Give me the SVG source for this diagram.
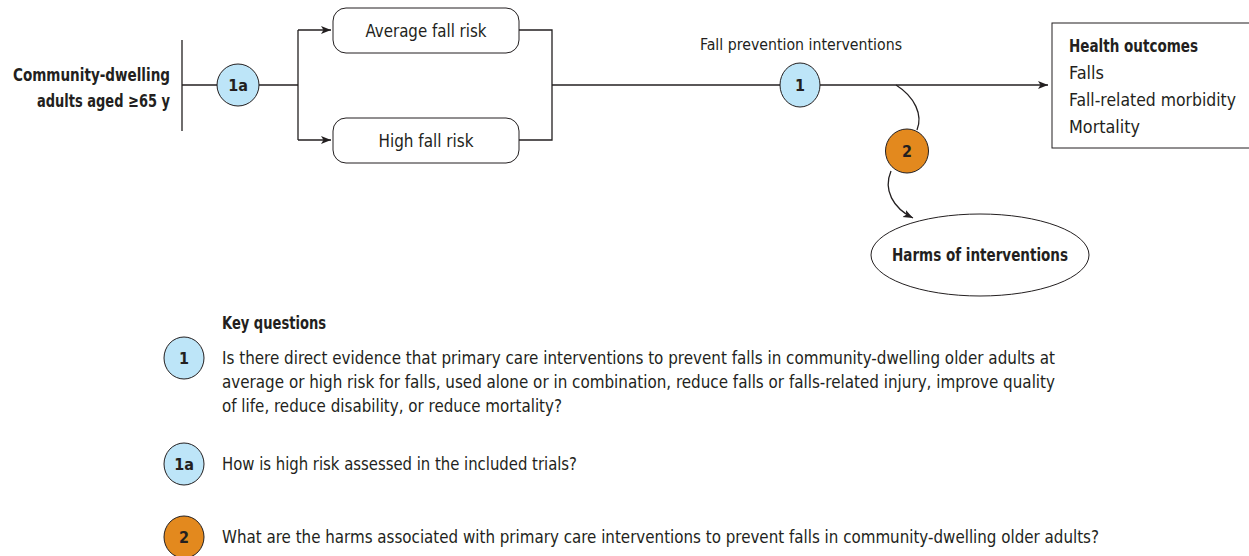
<svg xmlns="http://www.w3.org/2000/svg" width="1249" height="556" viewBox="0 0 1249 556">
<defs>
<marker id="ah" viewBox="0 0 10 10" refX="10" refY="5" markerWidth="10" markerHeight="10" markerUnits="userSpaceOnUse" orient="auto">
<path d="M0,1 L10,5 L0,9 L2.5,5 Z" fill="#231f20"/>
</marker>
<style>
text{font-family:"DejaVu Sans Condensed","Liberation Sans Narrow","Liberation Sans",sans-serif;fill:#231f20;font-size:17px}
.b{font-weight:bold}
.line{fill:none;stroke:#231f20;stroke-width:1.3}
.blue{fill:#bde5f8;stroke:#231f20;stroke-width:1}
.orange{fill:#e3891e;stroke:#231f20;stroke-width:1}
.box{fill:#fff;stroke:#231f20;stroke-width:1}
.c{text-anchor:middle}
.n{font-weight:bold;font-size:16px}
.pop{font-weight:bold;font-size:18px}
</style>
</defs>
<rect width="1249" height="556" fill="#fff"/>
<g id="connectors">
<line class="line" x1="182" y1="40" x2="182" y2="131"/>
<path class="line" d="M182,85 H298"/>
<path class="line" d="M298,30 V140"/>
<path class="line" d="M298,30 H331" marker-end="url(#ah)"/>
<path class="line" d="M298,140 H331" marker-end="url(#ah)"/>
<path class="line" d="M519,30 H552 V140 H519"/>
<path class="line" d="M552,85 H1048" marker-end="url(#ah)"/>
<path class="line" d="M896,85 C915,97 923,115 917,130"/>
<path class="line" d="M891,171 C883,190 893,208 913,218" marker-end="url(#ah)"/>
</g>
<g id="population">
<text class="pop" x="170" y="81" text-anchor="end" textLength="157" lengthAdjust="spacingAndGlyphs">Community-dwelling</text>
<text class="pop" x="170" y="107" text-anchor="end" textLength="133" lengthAdjust="spacingAndGlyphs">adults aged ≥65 y</text>
</g>
<g id="kq1a">
<ellipse class="blue" cx="238" cy="85" rx="21" ry="21"/>
<text class="n c" x="238" y="91">1a</text>
</g>
<g id="average">
<rect class="box" x="333" y="8" width="186" height="45" rx="13"/>
<text class="c" x="426" y="37" textLength="121" lengthAdjust="spacingAndGlyphs">Average fall risk</text>
</g>
<g id="high">
<rect class="box" x="333" y="118" width="186" height="45" rx="13"/>
<text class="c" x="426" y="147" textLength="95" lengthAdjust="spacingAndGlyphs">High fall risk</text>
</g>
<g id="interventions">
<text class="c" x="801" y="50" style="font-size:15.5px" textLength="202" lengthAdjust="spacingAndGlyphs">Fall prevention interventions</text>
<ellipse class="blue" cx="800" cy="85" rx="20" ry="22"/>
<text class="n c" x="800" y="91">1</text>
</g>
<g id="outcomes">
<rect class="box" x="1052" y="23" width="210" height="125"/>
<text class="b" x="1069" y="52" textLength="129" lengthAdjust="spacingAndGlyphs">Health outcomes</text>
<text x="1069" y="79" textLength="35" lengthAdjust="spacingAndGlyphs">Falls</text>
<text x="1069" y="106" textLength="167" lengthAdjust="spacingAndGlyphs">Fall-related morbidity</text>
<text x="1069" y="133" textLength="71" lengthAdjust="spacingAndGlyphs">Mortality</text>
</g>
<g id="kq2">
<ellipse class="orange" cx="907" cy="151" rx="21.5" ry="22"/>
<text class="n c" x="907" y="157">2</text>
</g>
<g id="harms">
<ellipse class="box" cx="980" cy="255" rx="109" ry="41"/>
<text class="b c" x="980" y="261" style="font-size:17.5px" textLength="176" lengthAdjust="spacingAndGlyphs">Harms of interventions</text>
</g>
<g id="legend">
<text class="b" x="222" y="329" textLength="104" lengthAdjust="spacingAndGlyphs">Key questions</text>
<ellipse class="blue" cx="184" cy="358" rx="20" ry="21"/>
<text class="n c" x="184" y="364">1</text>
<text x="222" y="364" textLength="833" lengthAdjust="spacingAndGlyphs">Is there direct evidence that primary care interventions to prevent falls in community-dwelling older adults at</text>
<text x="222" y="388" textLength="833" lengthAdjust="spacingAndGlyphs">average or high risk for falls, used alone or in combination, reduce falls or falls-related injury, improve quality</text>
<text x="222" y="412" textLength="340" lengthAdjust="spacingAndGlyphs">of life, reduce disability, or reduce mortality?</text>
<ellipse class="blue" cx="184" cy="464" rx="20" ry="21"/>
<text class="n c" x="184" y="470">1a</text>
<text x="222" y="470" textLength="355" lengthAdjust="spacingAndGlyphs">How is high risk assessed in the included trials?</text>
<ellipse class="orange" cx="184" cy="537" rx="20" ry="21"/>
<text class="n c" x="184" y="543">2</text>
<text x="222" y="543" textLength="877" lengthAdjust="spacingAndGlyphs">What are the harms associated with primary care interventions to prevent falls in community-dwelling older adults?</text>
</g>
</svg>
